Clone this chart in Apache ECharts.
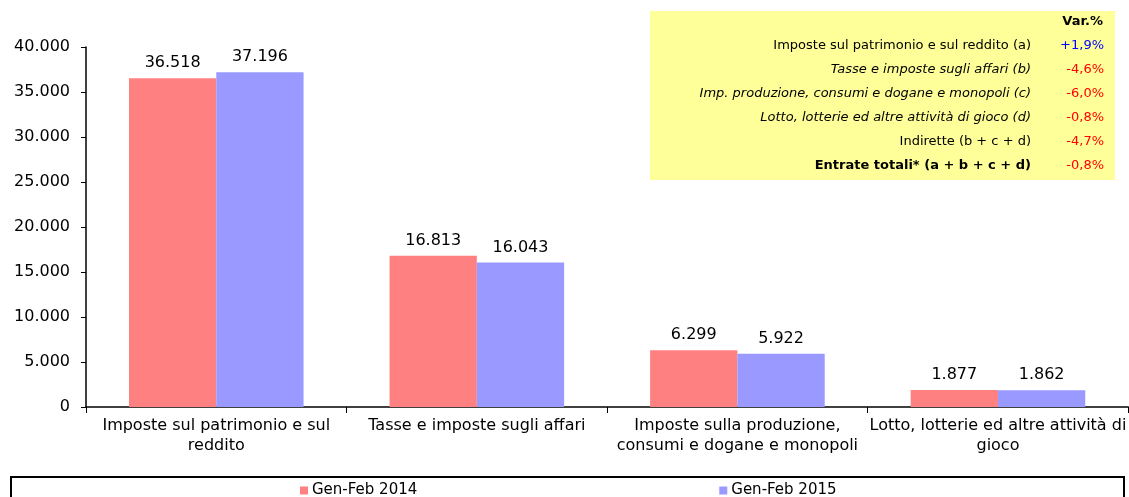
<!DOCTYPE html>
<html>
<head>
<meta charset="utf-8">
<script src="https://cdn.jsdelivr.net/npm/echarts@6/dist/echarts.min.js"></script>
<style>
  html, body { margin: 0; padding: 0; background: #fff; }
  #chart { width: 1129px; height: 497px; }
</style>
</head>
<body>
<div id="chart"></div>
<script>
// categorie asse x
var categories = [
  'Imposte sul patrimonio e sul\nreddito',
  'Tasse e imposte sugli affari',
  'Imposte sulla produzione,\nconsumi e dogane e monopoli',
  'Lotto, lotterie ed altre attività di\ngioco'
]
var seriesNames = ['Gen-Feb 2014', 'Gen-Feb 2015']
var values2014 = [36518, 16813, 6299, 1877]
var values2015 = [37196, 16043, 5922, 1862]

// tabella variazioni
var tableTitle = 'Var.%'
var tableLabels = [
  'Imposte sul patrimonio e sul reddito (a)',
  'Tasse e imposte sugli affari (b)',
  'Imp. produzione, consumi e dogane e monopoli (c)',
  'Lotto, lotterie ed altre attività di gioco (d)',
  'Indirette (b + c + d)',
  'Entrate totali* (a + b + c + d)'
]
var tableValues = [1.9, -4.6, -6.0, -0.8, -4.7, -0.8]
// stile delle righe (normale / corsivo / grassetto)
var rowStyles = ['normal', 'italic', 'italic', 'italic', 'normal', 'bold']

var FONT = '"DejaVu Sans", sans-serif'

function fmt(v) {
  return String(v).replace(/\B(?=(\d{3})+(?!\d))/g, '.')
}
function fmtPct(v) {
  return (v > 0 ? '+' : '') + v.toFixed(1).replace('.', ',') + '%'
}

var tableElements = [
  {
    type: 'rect',
    shape: { x: 650, y: 11, width: 465, height: 169 },
    style: { fill: '#FFFF99' },
    silent: true
  },
  {
    type: 'text',
    x: 1103, y: 22,
    style: {
      text: tableTitle, align: 'right', verticalAlign: 'middle',
      font: 'bold 13px ' + FONT, fill: '#000'
    }
  }
]
tableLabels.forEach(function (lab, i) {
  var st = rowStyles[i]
  var fontStr = (st === 'italic' ? 'italic ' : '') + (st === 'bold' ? 'bold ' : '') + '13px ' + FONT
  tableElements.push({
    type: 'text',
    x: 1031, y: 46 + i * 24,
    style: { text: lab, align: 'right', verticalAlign: 'middle', font: fontStr, fill: '#000' }
  })
  tableElements.push({
    type: 'text',
    x: 1104, y: 46 + i * 24,
    style: {
      text: fmtPct(tableValues[i]), align: 'right', verticalAlign: 'middle',
      font: '13px ' + FONT, fill: tableValues[i] > 0 ? '#0000FF' : '#FF0000'
    }
  })
})
// cornice legenda
tableElements.push({
  type: 'rect',
  shape: { x: 11, y: 477, width: 1113, height: 40 },
  style: { fill: 'none', stroke: '#000', lineWidth: 2 },
  silent: true
})

var chart = echarts.init(document.getElementById('chart'))
chart.setOption({
  animation: false,
  textStyle: { fontFamily: FONT },
  grid: { left: 86, right: -2, top: 47, bottom: 90, containLabel: false },
  legend: {
    top: 483,
    left: 300,
    padding: 0,
    itemGap: 302,
    itemWidth: 8,
    itemHeight: 8,
    icon: 'rect',
    textStyle: { fontSize: 15, color: '#000', padding: [0, 0, 0, -1] },
    data: seriesNames
  },
  xAxis: {
    type: 'category',
    data: categories,
    axisLine: { lineStyle: { color: '#000', width: 1.5 } },
    axisTick: { show: true, length: 6, lineStyle: { color: '#000' } },
    axisLabel: { color: '#000', fontSize: 16, lineHeight: 20, margin: 9, interval: 0 }
  },
  yAxis: {
    type: 'value',
    min: 0,
    max: 40000,
    interval: 5000,
    splitLine: { show: false },
    axisLine: { show: true, lineStyle: { color: '#000', width: 1.5 } },
    axisTick: { show: true, length: 5, lineStyle: { color: '#000' } },
    axisLabel: { color: '#000', fontSize: 16, margin: 16, formatter: fmt }
  },
  series: [
    {
      name: seriesNames[0],
      type: 'bar',
      data: values2014,
      barGap: '0%',
      barCategoryGap: '33%',
      itemStyle: { color: '#FF8080' },
      label: { show: true, position: 'top', color: '#000', fontSize: 16, distance: 7, formatter: function (p) { return fmt(p.value) } }
    },
    {
      name: seriesNames[1],
      type: 'bar',
      data: values2015,
      itemStyle: { color: '#9999FF' },
      label: { show: true, position: 'top', color: '#000', fontSize: 16, distance: 7, formatter: function (p) { return fmt(p.value) } }
    }
  ],
  graphic: tableElements
})
</script>
</body>
</html>
